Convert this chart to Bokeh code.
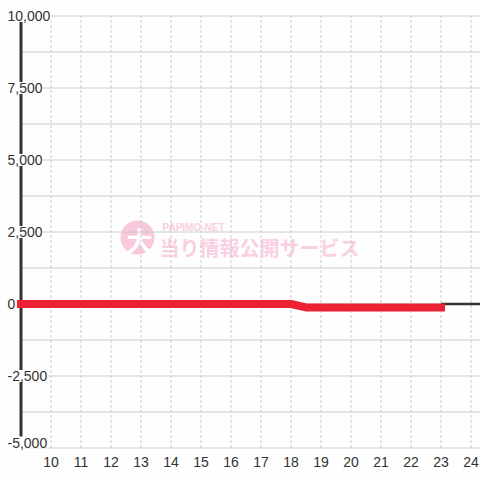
from bokeh.plotting import figure
from bokeh.models import Range1d
from bokeh.core.properties import value
from bokeh.embed import file_html
from bokeh.resources import INLINE

# ---- data ----
hours = [9, 18, 18.5, 23]
balance = [0, 0, -120, -120]
future_hours = [23, 24.5]
future_balance = [0, 0]
x_ticks = [10, 11, 12, 13, 14, 15, 16, 17, 18, 19, 20, 21, 22, 23, 24]
x_tick_labels = ["10", "11", "12", "13", "14", "15", "16", "17", "18", "19", "20", "21", "22", "23", "24"]
y_ticks = [-5000, -2500, 0, 2500, 5000, 7500, 10000]
y_tick_labels = ["-5,000", "-2,500", "0", "2,500", "5,000", "7,500", "10,000"]
y_grid = [-5000, -3750, -2500, -1250, 0, 1250, 2500, 3750, 5000, 6250, 7500, 8750, 10000]
watermark_small = ["PAPIMO-NET"]
watermark_big = ["当り情報公開サービス"]
watermark_mark = ["大"]

# ---- layout constants ----
BG = "#fdfefd"
GRID = "#cccccc"
TXT = "#333333"
PINK = "#fbcfe3"
PX_PER_HOUR = 30.0
PX_PER_UNIT = 432.0 / 15000.0
X_START = 10 - 50.5 / PX_PER_HOUR
X_END = X_START + 480 / PX_PER_HOUR
Y_END = 10000 + 15.5 / PX_PER_UNIT
Y_START = Y_END - 480 / PX_PER_UNIT
AXIS_X = 9
Y_MIN, Y_MAX = -5000, 10000


def hx(px):  # pixel x -> data x
    return X_START + px / PX_PER_HOUR


def vy(py):  # pixel y -> data y
    return Y_END - py / PX_PER_UNIT


p = figure(width=480, height=480, x_range=Range1d(X_START, X_END), y_range=Range1d(Y_START, Y_END),
           output_backend="svg", toolbar_location=None, x_axis_location=None, y_axis_location=None,
           min_border=0, background_fill_color=BG, border_fill_color=BG, outline_line_color=None)
p.grid.visible = False

# watermark (under the grid)
p.scatter(x=[hx(137)], y=[vy(237)], size=34, color="#f8c8dd", line_color=None)
p.text(x=[hx(139)], y=[vy(239)], text=watermark_mark, text_font=value("Noto Sans CJK JP"),
       text_font_style="bold", text_font_size="26px", text_color="white",
       text_align="center", text_baseline="middle")
p.text(x=[hx(162)], y=[vy(226.5)], text=watermark_small, text_font=value("Liberation Sans"),
       text_font_style="bold", text_font_size="10px", text_color=PINK,
       text_align="left", text_baseline="middle")
p.text(x=[hx(159)], y=[vy(246.5)], text=watermark_big, text_font=value("Noto Sans CJK JP"),
       text_font_style="bold", text_font_size="20px", text_color=PINK,
       text_align="left", text_baseline="middle")

# grid lines
p.segment(x0=[AXIS_X] * len(y_grid), y0=y_grid, x1=[X_END] * len(y_grid), y1=y_grid,
          line_color=GRID, line_width=1)
p.segment(x0=x_ticks, y0=[Y_MIN] * len(x_ticks), x1=x_ticks, y1=[Y_MAX] * len(x_ticks),
          line_color=GRID, line_width=1, line_dash="3 2")

# y axis line
p.segment(x0=[AXIS_X], y0=[Y_MIN], x1=[AXIS_X], y1=[Y_MAX], line_color=TXT, line_width=3)

# series
p.line(future_hours, future_balance, line_color=TXT, line_width=2.5)
p.line(hours, balance, line_color="#ec2134", line_width=8, line_cap="square", line_join="round")

# y tick labels (drawn over the axis line); the lowest one is kept inside the canvas
label_floor = vy(442)
label_y = [max(t, label_floor) for t in y_ticks]
p.text(x=[hx(6)] * len(y_ticks), y=label_y, text=y_tick_labels,
       text_font=value("Liberation Sans"), text_font_size="14px", text_color=TXT,
       text_align="left", text_baseline="middle",
       background_fill_color=BG, background_fill_alpha=1.0, padding=1)

# x tick labels
p.text(x=x_ticks, y=[vy(461)] * len(x_ticks), text=x_tick_labels,
       text_font=value("Liberation Sans"), text_font_size="14px", text_color=TXT,
       text_align="center", text_baseline="middle")

open("out.html", "w").write(file_html(p, INLINE))
